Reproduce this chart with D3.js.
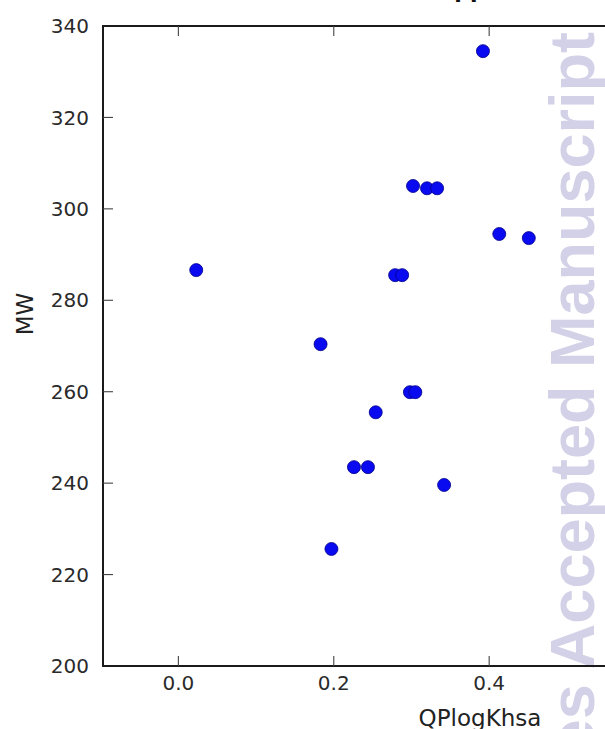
<!DOCTYPE html>
<html>
<head>
<meta charset="utf-8">
<script src="https://cdn.jsdelivr.net/npm/d3@7"></script>
<style>
  body { margin: 0; background: #fff; }
  svg { display: block; }
  .tick-label { font-family: "DejaVu Sans", sans-serif; font-size: 20px; fill: #2a2a2a; }
  .axis-label { font-family: "DejaVu Sans", sans-serif; font-size: 23px; fill: #222; }
</style>
</head>
<body>
<div id="chart"></div>
<script>
// data
const qplogkhsa = [0.023, 0.183, 0.197, 0.226, 0.244, 0.254, 0.279, 0.288, 0.298, 0.305, 0.302, 0.320, 0.333, 0.342, 0.392, 0.413, 0.451];
const mw        = [286.6, 270.4, 225.6, 243.5, 243.5, 255.5, 285.5, 285.5, 259.9, 259.9, 305.0, 304.5, 304.5, 239.6, 334.5, 294.5, 293.6];
const xTicks = [0.0, 0.2, 0.4];
const yTicks = [200, 220, 240, 260, 280, 300, 320, 340];

const W = 605, H = 729;
const plotLeft = 103, plotTop = 26, plotBottom = 666;

const svg = d3.select("#chart").append("svg")
    .attr("width", W)
    .attr("height", H);

// scales (axes box runs off the right edge of the crop)
const x = d3.scaleLinear().domain([-0.097, 0.873]).range([plotLeft, plotLeft + 0.97 * 777]);
const y = d3.scaleLinear().domain([200, 340]).range([plotBottom, plotTop]);

// watermark, under everything
svg.append("text")
    .attr("transform", `translate(594,32) rotate(-90)`)
    .attr("text-anchor", "end")
    .style("font-family", "Liberation Sans, Arial, sans-serif")
    .style("font-weight", "bold")
    .style("font-size", "63px")
    .style("fill", "#d3d1e7")
    .text("Chemical Sciences Accepted Manuscript");

// clipped bits of the title above
svg.append("text")
    .attr("x", 470).attr("y", -2)
    .attr("text-anchor", "middle")
    .style("font-family", "DejaVu Sans, sans-serif")
    .style("font-weight", "bold")
    .style("font-size", "22px")
    .style("fill", "#111")
    .text("pp");

// points
svg.selectAll(".dot")
    .data(qplogkhsa.map((d, i) => ({ x: d, y: mw[i] })))
    .enter()
    .append("circle")
    .attr("class", "dot")
    .attr("cx", d => x(d.x))
    .attr("cy", d => y(d.y))
    .attr("r", 6.5)
    .attr("fill", "#0a0af0")
    .attr("stroke", "#00008a")
    .attr("stroke-width", 0.8);

// spines
const spine = svg.append("g").attr("stroke", "#1a1a1a").attr("stroke-width", 2).attr("fill", "none");
spine.append("line").attr("x1", plotLeft).attr("x2", W + 5).attr("y1", plotTop).attr("y2", plotTop);
spine.append("line").attr("x1", plotLeft).attr("x2", W + 5).attr("y1", plotBottom).attr("y2", plotBottom);
spine.append("line").attr("x1", plotLeft).attr("x2", plotLeft).attr("y1", plotTop - 1).attr("y2", plotBottom + 1);

// inward ticks, bottom and top
const tickLen = 10;
const tg = svg.append("g").attr("stroke", "#444").attr("stroke-width", 1.1);
xTicks.forEach(t => {
    tg.append("line").attr("x1", x(t)).attr("x2", x(t)).attr("y1", plotBottom).attr("y2", plotBottom - tickLen);
    tg.append("line").attr("x1", x(t)).attr("x2", x(t)).attr("y1", plotTop).attr("y2", plotTop + tickLen);
});
yTicks.forEach(t => {
    if (t === 200 || t === 340) return;
    tg.append("line").attr("x1", plotLeft).attr("x2", plotLeft + tickLen).attr("y1", y(t)).attr("y2", y(t));
});

// tick labels
svg.selectAll(".xlab")
    .data(xTicks)
    .enter()
    .append("text")
    .attr("class", "tick-label")
    .attr("x", d => x(d))
    .attr("y", 690)
    .attr("text-anchor", "middle")
    .text(d => d3.format(".1f")(d));

svg.selectAll(".ylab")
    .data(yTicks)
    .enter()
    .append("text")
    .attr("class", "tick-label")
    .attr("x", 89)
    .attr("y", d => y(d))
    .attr("dy", "0.36em")
    .attr("text-anchor", "end")
    .text(d => d);

// axis labels
svg.append("text")
    .attr("class", "axis-label")
    .attr("x", 480)
    .attr("y", 726)
    .attr("text-anchor", "middle")
    .text("QPlogKhsa");

svg.append("text")
    .attr("class", "axis-label")
    .attr("transform", "translate(33,314) rotate(-90)")
    .attr("text-anchor", "middle")
    .text("MW");
</script>
</body>
</html>
